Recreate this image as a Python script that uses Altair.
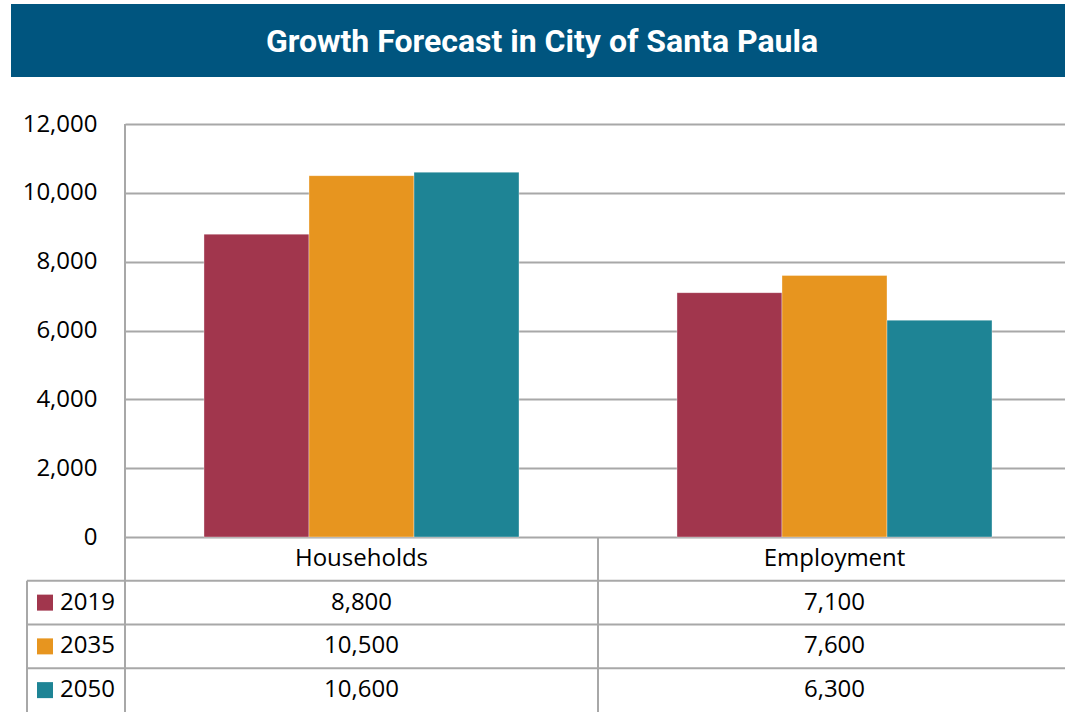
import altair as alt
import pandas as pd

TITLE = "Growth Forecast in City of Santa Paula"
CATEGORIES = ["Households", "Employment"]
YEARS = ["2019", "2035", "2050"]
VALUES_2019 = [8800, 7100]
VALUES_2035 = [10500, 7600]
VALUES_2050 = [10600, 6300]
Y_TICKS = [0, 2000, 4000, 6000, 8000, 10000, 12000]
COLORS = ["#A1364D", "#E7951F", "#1E8495"]
TABLE_ROWS = ["header"] + YEARS

BANNER = "#00557F"
GRID = "#A8A8A8"
FONT = "Open Sans"

records = []
for year, vals in zip(YEARS, [VALUES_2019, VALUES_2035, VALUES_2050]):
    for cat, v in zip(CATEGORIES, vals):
        records.append({"Category": cat, "Year": year, "Value": v})
df = pd.DataFrame(records)
df_head = pd.DataFrame({"Category": CATEGORIES, "Row": ["header"] * len(CATEGORIES)})
df_years = pd.DataFrame({"Year": YEARS})
one = pd.DataFrame({"t": [TITLE]})

W, H = 940, 413
x_scale = alt.Scale(domain=CATEGORIES, range=[0, 946], paddingInner=0.334, paddingOuter=0.167)
row_scale = alt.Scale(type="band", domain=TABLE_ROWS, range=[413, 588], paddingInner=0, paddingOuter=0)
color_scale = alt.Scale(domain=YEARS, range=COLORS)

bars = alt.Chart(df).mark_bar(stroke="#ffffff", strokeOpacity=0.35, strokeWidth=1).encode(
    x=alt.X("Category:N", scale=x_scale, axis=None, sort=CATEGORIES),
    xOffset=alt.XOffset("Year:N", sort=YEARS, scale=alt.Scale(paddingInner=0, paddingOuter=0)),
    y=alt.Y("Value:Q", scale=alt.Scale(domain=[0, 12000], nice=False),
            axis=alt.Axis(values=Y_TICKS, format=",.0f", title=None, ticks=False, domain=False,
                          labelFont=FONT, labelFontSize=24, labelColor="#000000", labelPadding=28,
                          grid=True, gridColor=GRID, gridWidth=2)),
    color=alt.Color("Year:N", scale=color_scale, legend=None),
)

banner = alt.Chart(one).mark_rect(color=BANNER).encode(
    x=alt.value(-114), x2=alt.value(940), y=alt.value(-120), y2=alt.value(-47)
)
title = alt.Chart(one).mark_text(font="Roboto", fontWeight="bold", fontSize=32, color="white",
                                 align="center", baseline="middle").encode(
    x=alt.value(417), y=alt.value(-82), text="t:N"
)

head_text = alt.Chart(df_head).mark_text(font=FONT, fontSize=24, color="#000000", baseline="middle").encode(
    x=alt.X("Category:N", scale=x_scale, axis=None, sort=CATEGORIES),
    y=alt.Y("Row:N", scale=row_scale, axis=None),
    text="Category:N",
)
val_text = alt.Chart(df).mark_text(font=FONT, fontSize=24, color="#000000", baseline="middle").encode(
    x=alt.X("Category:N", scale=x_scale, axis=None, sort=CATEGORIES),
    y=alt.Y("Year:N", scale=row_scale, axis=None),
    text=alt.Text("Value:Q", format=",.0f"),
)
row_lines = alt.Chart(df_years).mark_rule(color=GRID, strokeWidth=2).encode(
    y=alt.Y("Year:N", scale=row_scale, axis=None, bandPosition=0),
    x=alt.value(-98), x2=alt.value(940),
)
swatches = alt.Chart(df_years).mark_square(size=256, opacity=1).encode(
    x=alt.value(-80),
    y=alt.Y("Year:N", scale=row_scale, axis=None),
    color=alt.Color("Year:N", scale=color_scale, legend=None),
)
year_text = alt.Chart(df_years).mark_text(font=FONT, fontSize=24, color="#000000", align="left",
                                         baseline="middle").encode(
    x=alt.value(-65),
    y=alt.Y("Year:N", scale=row_scale, axis=None),
    text="Year:N",
)
vline_left = alt.Chart(one).mark_rule(color=GRID, strokeWidth=2).encode(
    x=alt.value(-98), y=alt.value(456.75), y2=alt.value(588))
vline_axis = alt.Chart(one).mark_rule(color=GRID, strokeWidth=2).encode(
    x=alt.value(0), y=alt.value(0), y2=alt.value(588))
vline_mid = alt.Chart(one).mark_rule(color=GRID, strokeWidth=2).encode(
    x=alt.value(473), y=alt.value(413), y2=alt.value(588))

chart = alt.layer(
    bars, banner, title, head_text, val_text, row_lines, swatches, year_text,
    vline_left, vline_axis, vline_mid
).resolve_scale(y="independent").properties(
    width=W, height=H,
    autosize=alt.AutoSizeParams(type="none"),
    padding={"left": 125, "top": 124, "right": 0, "bottom": 175},
    background="white",
).configure_view(stroke=None)

chart.save("out.html", embed_options={"renderer": "svg", "actions": False})
